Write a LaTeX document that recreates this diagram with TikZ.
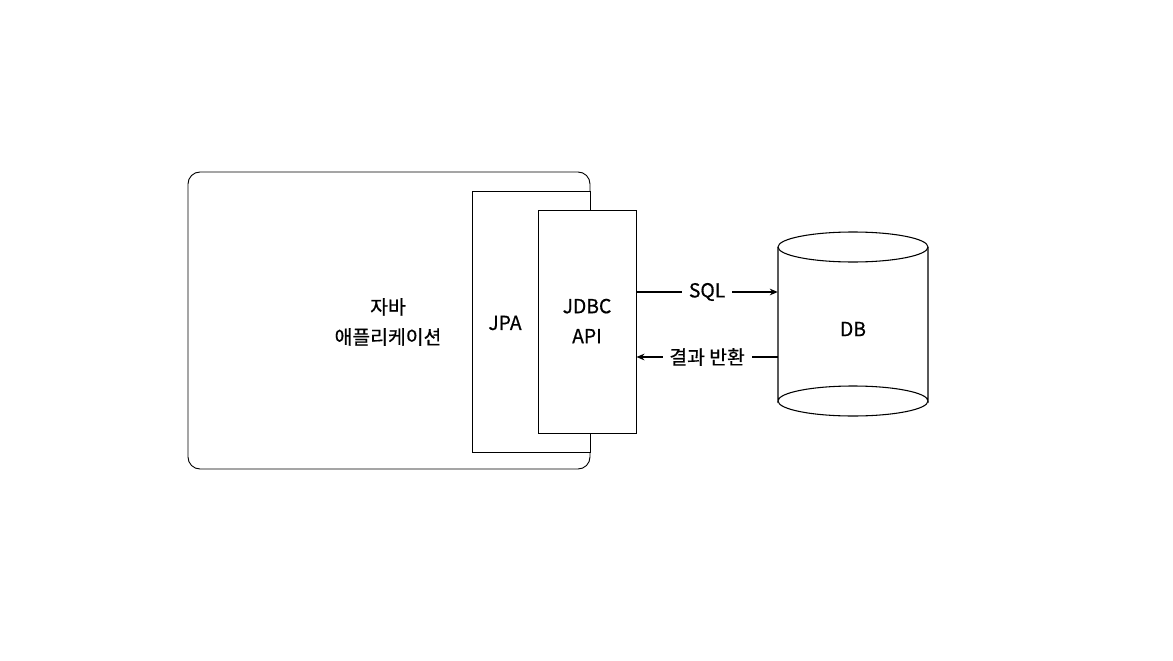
\documentclass[tikz,border=0pt]{standalone}
\usepackage{fontspec}
\setmainfont{Noto Sans CJK KR}[FakeBold=0.6]
\usetikzlibrary{arrows.meta}
\begin{document}
\begin{tikzpicture}[x=0.75pt,y=-0.75pt,
  lbl/.style={font=\fontsize{14.5}{22.5}\selectfont, align=center, inner sep=0pt},
  boxx/.style={draw=black, line width=0.7pt, fill=white, inner sep=0pt},
  conn/.style={draw=black, line width=1.1pt, -{Stealth[length=6pt,width=5pt]}},
  tag/.style={lbl, fill=white, inner xsep=5pt, inner ysep=2pt}]
\useasboundingbox (0,0) rectangle (1173,660);
% outer application box
\node[boxx, rounded corners=9pt, minimum width=402*0.75pt, minimum height=297*0.75pt] (app) at (389,320.5) {};
\node[lbl] (apptext) at (388,322) {자바\\애플리케이션};
% JPA
\node[boxx, minimum width=118*0.75pt, minimum height=261*0.75pt] (jpa) at (531,321.5) {};
\node[lbl] (jpatext) at (505,323) {JPA};
% JDBC
\node[boxx, minimum width=98*0.75pt, minimum height=223*0.75pt] (jdbc) at (587,321.5) {};
\node[lbl] (jdbctext) at (587,321) {JDBC\\API};
% DB cylinder
\node[minimum width=150*0.75pt, minimum height=184*0.75pt, inner sep=0pt] (db) at (853,324) {};
\draw[line width=0.8pt, fill=white] (778,247) -- (778,401) arc[start angle=180,end angle=360,x radius=75,y radius=15] -- (928,247);
\draw[line width=0.8pt] (853,247) ellipse[x radius=75,y radius=15];
\draw[line width=0.8pt] (778,401) arc[start angle=180,end angle=0,x radius=75,y radius=15];
\node[lbl] (dbtext) at (853,329) {DB};
% connectors
\coordinate (y1) at (0,292);
\coordinate (y2) at (0,357);
\draw[conn] (jdbc.east |- y1) -- node[tag] (sql) {SQL} (db.west |- y1);
\draw[conn] (db.west |- y2) -- node[tag] (ret) {결과 반환} (jdbc.east |- y2);
\end{tikzpicture}
\end{document}
